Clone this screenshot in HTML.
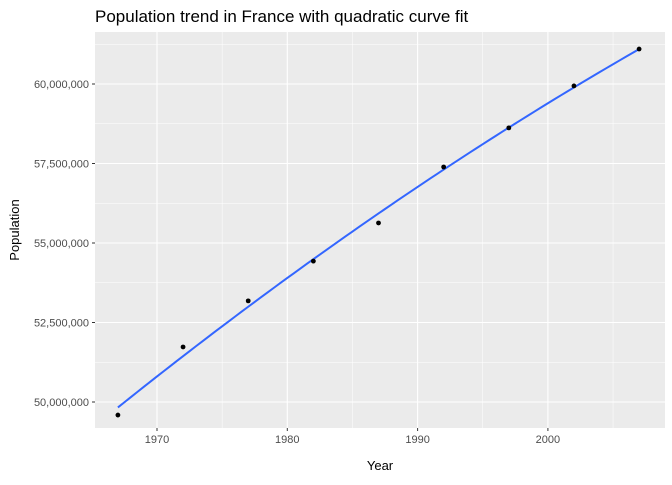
<!DOCTYPE html>
<html><head><meta charset="utf-8"><style>
body{margin:0;background:#fff;font-family:"Liberation Sans",sans-serif}
</style></head><body>
<svg id="chart" width="672" height="480" xmlns="http://www.w3.org/2000/svg">
<text x="95" y="22" font-size="17" fill="#000">Population trend in France with quadratic curve fit</text>
<rect x="95" y="32" width="570" height="396" fill="#ebebeb"/>
<g id="grid"></g><g id="axes"></g><g id="marks"></g>
<text x="380" y="470" font-size="13" text-anchor="middle" fill="#000">Year</text>
<text transform="translate(19,230) rotate(-90)" font-size="13" text-anchor="middle" fill="#000">Population</text>
</svg>
<script>
const years=[1967,1972,1977,1982,1987,1992,1997,2002,2007];
const population=[49590000,51730000,53180000,54430000,55630000,57390000,58620000,59940000,61100000];
const xTicks=[1970,1980,1990,2000];
const yTicks=[50000000,52500000,55000000,57500000,60000000];
const yTickLabels=["50,000,000","52,500,000","55,000,000","57,500,000","60,000,000"];
const NS="http://www.w3.org/2000/svg";
const L=95,R=665,T=32,B=428;
function x(v){return 157+(v-1970)*13.03;}
function y(v){return 402-(v-50000000)*31.8e-6;}
function mk(tag,attrs,parent){const e=document.createElementNS(NS,tag);for(const k in attrs)e.setAttribute(k,attrs[k]);document.getElementById(parent).appendChild(e);return e;}
// minor grid
for(let i=0;i<xTicks.length+1;i++){const v=xTicks[0]-5+i*10;const px=x(v);if(px>L&&px<R){const e=mk('line',{x1:px,x2:px,y1:T,y2:B,stroke:'#fff','stroke-width':0.5},'grid');

}}
for(let i=0;i<yTicks.length+1;i++){const v=yTicks[0]-1250000+i*2500000;const py=y(v);if(py>T&&py<B){const e=mk('line',{x1:L,x2:R,y1:py,y2:py,stroke:'#fff','stroke-width':0.5},'grid');

}}
xTicks.forEach(v=>{const px=x(v);
const g=mk('line',{x1:px,x2:px,y1:T,y2:B,stroke:'#fff','stroke-width':1.1},'grid');


const t=mk('line',{x1:px,x2:px,y1:B,y2:B+3,stroke:'#333'},'axes');


const l=mk('text',{x:px,y:B+15,'font-size':11,'text-anchor':'middle',fill:'#4d4d4d'},'axes');l.textContent=v;

});
yTicks.forEach((v,i)=>{const py=y(v);
const g=mk('line',{x1:L,x2:R,y1:py,y2:py,stroke:'#fff','stroke-width':1.1},'grid');


const t=mk('line',{x1:L-3,x2:L,y1:py,y2:py,stroke:'#333'},'axes');


const l=mk('text',{x:L-6,y:py+4,'font-size':11,'text-anchor':'end',fill:'#4d4d4d'},'axes');l.textContent=yTickLabels[i];

});
// quadratic least-squares fit
const n=years.length,mx=years.reduce((a,b)=>a+b)/n;
let S=[0,0,0,0,0],Sy=[0,0,0];
years.forEach((yr,i)=>{const t=yr-mx;for(let k=0;k<5;k++)S[k]+=t**k;for(let k=0;k<3;k++)Sy[k]+=population[i]*t**k;});
const M=[[S[0],S[1],S[2],Sy[0]],[S[1],S[2],S[3],Sy[1]],[S[2],S[3],S[4],Sy[2]]];
for(let i=0;i<3;i++){for(let j=i+1;j<3;j++){const f=M[j][i]/M[i][i];for(let k=i;k<4;k++)M[j][k]-=f*M[i][k];}}
const c=[0,0,0];for(let i=2;i>=0;i--){let s=M[i][3];for(let k=i+1;k<3;k++)s-=M[i][k]*c[k];c[i]=s/M[i][i];}
let d='';const y0=years[0],y1=years[n-1];
for(let i=0;i<=80;i++){const yr=y0+(y1-y0)*i/80,t=yr-mx;const v=c[0]+c[1]*t+c[2]*t*t;d+=(i?'L':'M')+x(yr).toFixed(2)+','+y(v).toFixed(2);}
const fl=mk('path',{d:d,fill:'none',stroke:'#3366ff','stroke-width':2},'marks');


years.forEach((yr,i)=>{const p=mk('circle',{cx:x(yr),cy:y(population[i]),r:2.4,fill:'#000'},'marks');

});
</script>
</body></html>
